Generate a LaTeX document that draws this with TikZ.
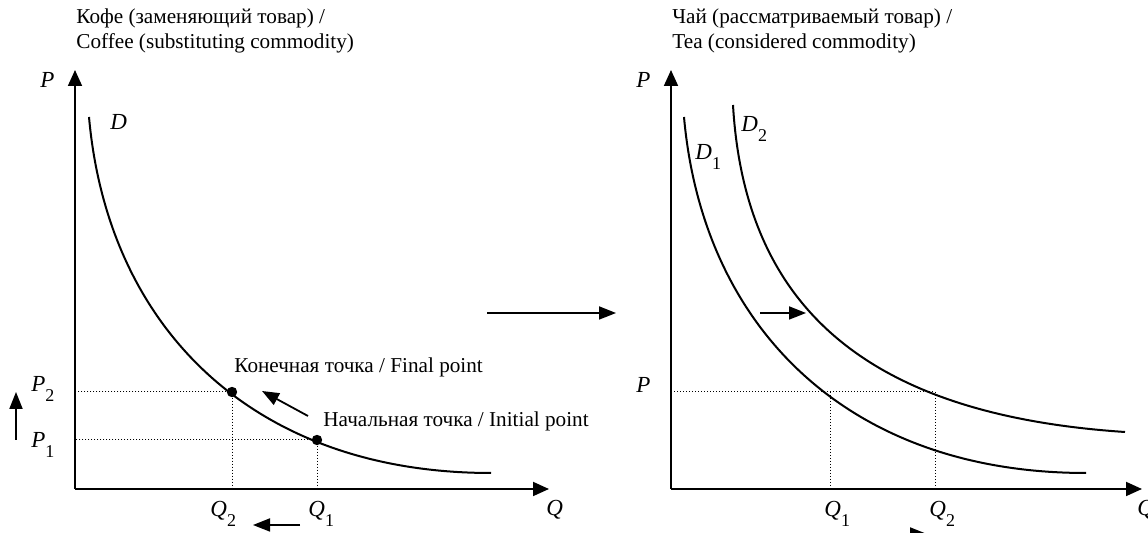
\documentclass[tikz,border=0pt]{standalone}
\usepackage{fontspec}
\setmainfont{Liberation Serif}
\usepackage{tikz}
\usetikzlibrary{arrows.meta}

\newcommand{\lsub}[2]{\textit{#1}\raisebox{-5pt}{\fontsize{9}{9}\selectfont #2}}

\begin{document}
\begin{tikzpicture}[x=0.5pt,y=-0.5pt,font=\fontsize{10.6}{12.5}\selectfont,
	axis/.style={line width=0.9pt, -{Triangle[length=8pt,width=7pt]}},
	move/.style={line width=0.9pt, -{Triangle[length=8.5pt,width=6.5pt]}},
	curve/.style={line width=1pt},
	guide/.style={densely dotted, line width=0.5pt},
	lbl/.style={inner sep=0pt, anchor=base west},
	sym/.style={lbl, font=\fontsize{11.5}{13}\selectfont},
	dot/.style={circle, fill, inner sep=0pt, minimum size=5.2pt}]
\useasboundingbox (0,0) rectangle (1148,533);

% coffee
\node[lbl](t1) at (76,24) {Кофе (заменяющий товар) /};
\node[lbl](t2) at (76,49) {Coffee (substituting commodity)};
\coordinate(o1) at (75,489);
\coordinate(y1) at (75,70);
\coordinate(x1) at (549,489);
\draw[axis] (o1) -- (y1);
\draw[axis] (o1) -- (x1);
\draw[curve] (89,117) .. controls (108,330) and (255,473) .. (491,473);

\node[dot](e2) at (232,392) {};
\node[dot](e1) at (317,440) {};
\foreach \e in {e1,e2}
	{\draw[guide] (\e) -- (\e -| o1);
	\draw[guide] (\e) -- (\e |- o1);}

\node[sym](p) at (40,88) {\textit{P}};
\node[sym](d) at (110,130) {\textit{D}};
\node[sym](q) at (546,516) {\textit{Q}};
\node[sym](p2) at (31,392) {\lsub{P}{2}};
\node[sym](p1) at (31,448) {\lsub{P}{1}};
\node[sym](q2) at (210,517) {\lsub{Q}{2}};
\node[sym](q1) at (308,517) {\lsub{Q}{1}};
\node[lbl](fin) at (234,373) {Конечная точка / Final point};
\node[lbl](ini) at (323,427) {Начальная точка / Initial point};

\coordinate(a1) at (308,416);
\coordinate(a2) at (262,391);
\draw[move] (a1) -- (a2);
\coordinate(u1) at (16,440);
\coordinate(u2) at (16,392);
\draw[move] (u1) -- (u2);
\coordinate(l1) at (300,525);
\coordinate(l2) at (253,525);
\draw[move] (l1) -- (l2);

% link
\coordinate(m1) at (487,313);
\coordinate(m2) at (616,313);
\draw[move] (m1) -- (m2);

% tea
\node[lbl](t3) at (672,24) {Чай (рассматриваемый товар) /};
\node[lbl](t4) at (672,49) {Tea (considered commodity)};
\coordinate(o2) at (671,489);
\coordinate(y2) at (671,70);
\coordinate(x2) at (1142,489);
\draw[axis] (o2) -- (y2);
\draw[axis] (o2) -- (x2);
\draw[curve] (684,117) .. controls (703,330) and (850,473) .. (1086,473);
\draw[curve] (733,105) .. controls (745,310) and (870,415) .. (1125,432);

\coordinate(c1) at (830,392);
\coordinate(c2) at (935,392);
\draw[guide] (o2 |- c2) -- (c2);
\foreach \c in {c1,c2}
	\draw[guide] (\c) -- (\c |- o2);

\node[sym](pt) at (636,88) {\textit{P}};
\node[sym](pe) at (636,393) {\textit{P}};
\node[sym](qt) at (1137,516) {\textit{Q}};
\node[sym](d1) at (695,160) {\lsub{D}{1}};
\node[sym](d2) at (741,132) {\lsub{D}{2}};
\node[sym](r1) at (824,517) {\lsub{Q}{1}};
\node[sym](r2) at (929,517) {\lsub{Q}{2}};

\coordinate(s1) at (760,313);
\coordinate(s2) at (806,313);
\draw[move] (s1) -- (s2);
\coordinate(b1) at (867,534);
\coordinate(b2) at (927,534);
\draw[move] (b1) -- (b2);

\end{tikzpicture}
\end{document}
